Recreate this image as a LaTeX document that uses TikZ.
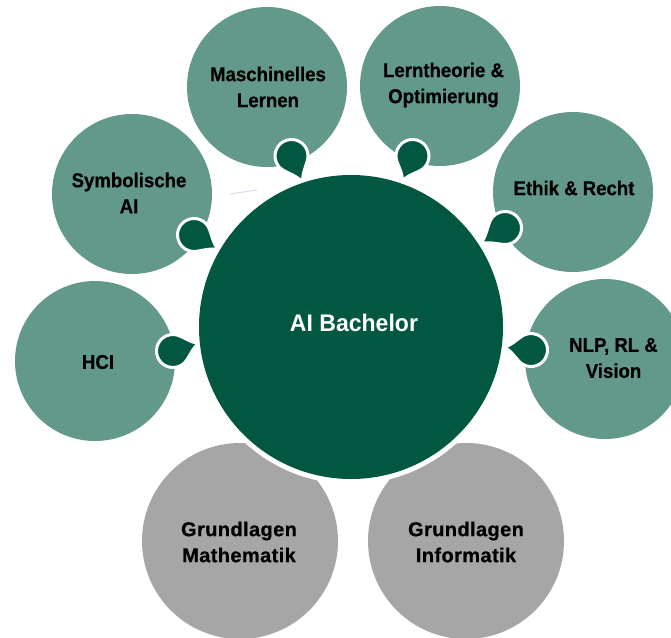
\documentclass[tikz,border=0pt]{standalone}
\usepackage{fontspec}
\setmainfont{Liberation Sans}
\newfontfamily\lblfont{Liberation Sans}[FakeStretch=0.93,FakeBold=0.6]
\newfontfamily\grayfont{Liberation Sans}[LetterSpace=2,FakeBold=0.6]
\newfontfamily\mainfont{Liberation Sans}[FakeStretch=0.96]
\usetikzlibrary{calc}
\definecolor{lightg}{HTML}{62998A}
\definecolor{darkg}{HTML}{01573F}
\definecolor{grayc}{HTML}{A6A6A6}
\definecolor{faintc}{HTML}{D5DEE8}
\tikzset{
  gcirc/.style={circle, fill=lightg, minimum size=160pt, inner sep=0pt},
  graycirc/.style={circle, fill=grayc, minimum size=196pt, inner sep=0pt},
  lbl/.style={font=\lblfont\bfseries\fontsize{20}{26}\selectfont, align=center, text=black, inner sep=0pt},
  glbl/.style={font=\grayfont\bfseries\fontsize{20}{26}\selectfont, align=center, text=black, inner sep=0pt},
  dropstyle/.style={fill=darkg, draw=white, line width=3pt},
}
\newcommand\dropconn[2]{%
  \path[dropstyle] let \p1=(#1), \p2=(#2), \n1={atan2(\y2-\y1,\x2-\x1)} in
  (#2) .. controls ($(#2)+(\n1+169.4:8.14pt)$) and ($(#1)+(\n1+33.5:17.87pt)$) .. ($(#1)+(\n1+60:16.5pt)$)
  arc[start angle=\n1+60, end angle=\n1+300, radius=16.5pt]
  .. controls ($(#1)+(\n1-33.5:17.87pt)$) and ($(#2)+(\n1+190.6:8.14pt)$) .. (#2) -- cycle;}
\begin{document}
\begin{tikzpicture}[x=1pt,y=-1pt]
\useasboundingbox (0,0) rectangle (671,637);
\clip (0,0) rectangle (671,637);
% outer circles
\node[gcirc] (ml) at (267,87) {};
\node[gcirc] (lt) at (440,86) {};
\node[gcirc] (sym) at (132,194) {};
\node[gcirc] (hci) at (95,361) {};
\node[gcirc] (eth) at (573,192) {};
\node[gcirc] (nlp) at (605,359) {};
\node[graycirc] (gm) at (240,541) {};
\node[graycirc] (gi) at (466,541) {};
% labels
\node[lbl] (tml) at (268,87) {Maschinelles\\Lernen};
\node[lbl] (tlt) at (443.5,85) {Lerntheorie \&\\Optimierung};
\node[lbl] (tsym) at (129,193) {Symbolische\\AI};
\node[lbl] (thci) at (98,362) {HCI};
\node[lbl] (teth) at (574,188) {Ethik \& Recht};
\node[lbl] (tnlp) at (613.5,358) {NLP, RL \&\\Vision};
\node[glbl] (tgm) at (239,542) {Grundlagen\\Mathematik};
\node[glbl] (tgi) at (466,542) {Grundlagen\\Informatik};
% faint stray line
\coordinate (fa) at (230,194);
\coordinate (fb) at (257,190);
\draw[faintc, line width=1pt] (fa) -- (fb);
% white gap around centre
\coordinate (mc) at (351,327);
\fill[white] (mc) circle[radius=157pt];
% drop connectors
\coordinate (hml) at (291.5,156); \coordinate (pml) at (303,183);
\coordinate (hlt) at (412.5,156); \coordinate (plt) at (402,182);
\coordinate (hsym) at (194,235); \coordinate (psym) at (219,250);
\coordinate (hhci) at (173,351); \coordinate (phci) at (200,343);
\coordinate (heth) at (505,228); \coordinate (peth) at (480,244);
\coordinate (hnlp) at (531,350); \coordinate (pnlp) at (503,347);
\dropconn{hml}{pml}
\dropconn{hlt}{plt}
\dropconn{hsym}{psym}
\dropconn{hhci}{phci}
\dropconn{heth}{peth}
\dropconn{hnlp}{pnlp}
% centre
\node[circle, fill=darkg, minimum size=304pt, inner sep=0pt] (main) at (mc) {};
\node[font=\mainfont\bfseries\fontsize{24}{28}\selectfont, text=white, inner sep=0pt] (tmain) at (354,323) {AI Bachelor};
\end{tikzpicture}
\end{document}
